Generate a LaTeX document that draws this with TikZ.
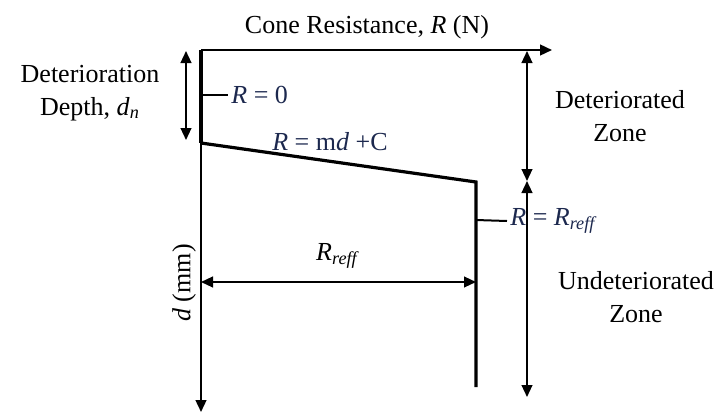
\documentclass[tikz,border=0pt]{standalone}
\usepackage{fontspec}
\setmainfont{Liberation Serif}
\usetikzlibrary{arrows.meta, positioning}
\definecolor{eqnavy}{RGB}{28,40,78}

\begin{document}
\begin{tikzpicture}[
    x=0.5pt, y=-0.5pt,
    >={Triangle[length=6pt, width=5.4pt]},
    every node/.style={font=\fontsize{13}{16.5}\selectfont},
    axisline/.style={line width=1pt},
    profile/.style={line width=1.6pt},
    dimline/.style={line width=0.9pt, <->},
    eqn/.style={text=eqnavy, inner sep=1.5pt},
    zone/.style={align=center},
]
\useasboundingbox (0,0) rectangle (719,418);

% ============================================================
% Axes
% ============================================================
\coordinate (O) at (201,50);
\coordinate (Rend) at (552,50);
\coordinate (dend) at (201,412);
\draw[axisline, ->] (O) -- (Rend);
\draw[axisline, ->] (O) -- (dend);
\node (Raxis) at (367,27) {Cone Resistance, \textit{R} (N)};
\node[rotate=90] (daxis) at (184,283) {\textit{d} (mm)};

% ============================================================
% Resistance profile
% ============================================================
\coordinate (knee) at (201,143);
\coordinate (brk) at (476,182);
\coordinate (Rbot) at (476,387);
\draw[line width=2pt] (O) -- (knee);
\draw[profile] (knee) -- (brk) -- (Rbot);

% R = 0 tick
\coordinate (tickA) at (201,95);
\node[eqn, anchor=west] (Rzero) at (228,95) {\textit{R} = 0};
\draw[axisline] (tickA) -- (Rzero.west);
% sloped part
\node[eqn] (Rlin) at (330,142) {\textit{R} = m\textit{d} +C};
% R = Rreff tick
\coordinate (tickB) at (476,220);
\node[eqn, anchor=west] (Rconst) at (507,221) {\textit{R} = \textit{R}\textsubscript{\textit{reff}}};
\draw[axisline] (tickB) -- (Rconst.west);

% ============================================================
% Dimensions
% ============================================================
% deterioration depth
\coordinate (dnTop) at (186,51);
\coordinate (dnBot) at (186,140);
\draw[dimline] (dnTop) -- (dnBot);
\node[zone] (dn) at (90,93) {Deterioration\\Depth, \textit{d}\textsubscript{\textit{n}}};

% Rreff width
\coordinate (wL) at (201,282);
\coordinate (wR) at (476,282);
\draw[dimline] (wL) -- (wR);
\node (Rreff) at (338,256) {\textit{R}\textsubscript{\textit{reff}}};

% zones
\coordinate (zTop) at (527,51);
\coordinate (zMid) at (527,181);
\coordinate (zBot) at (527,397);
\draw[dimline] (zTop) -- (zMid);
\draw[dimline] (zMid) -- (zBot);
\node[zone] (detZone) at (620,116) {Deteriorated\\Zone};
\node[zone] (undetZone) at (636,297) {Undeteriorated\\Zone};

\end{tikzpicture}
\end{document}
